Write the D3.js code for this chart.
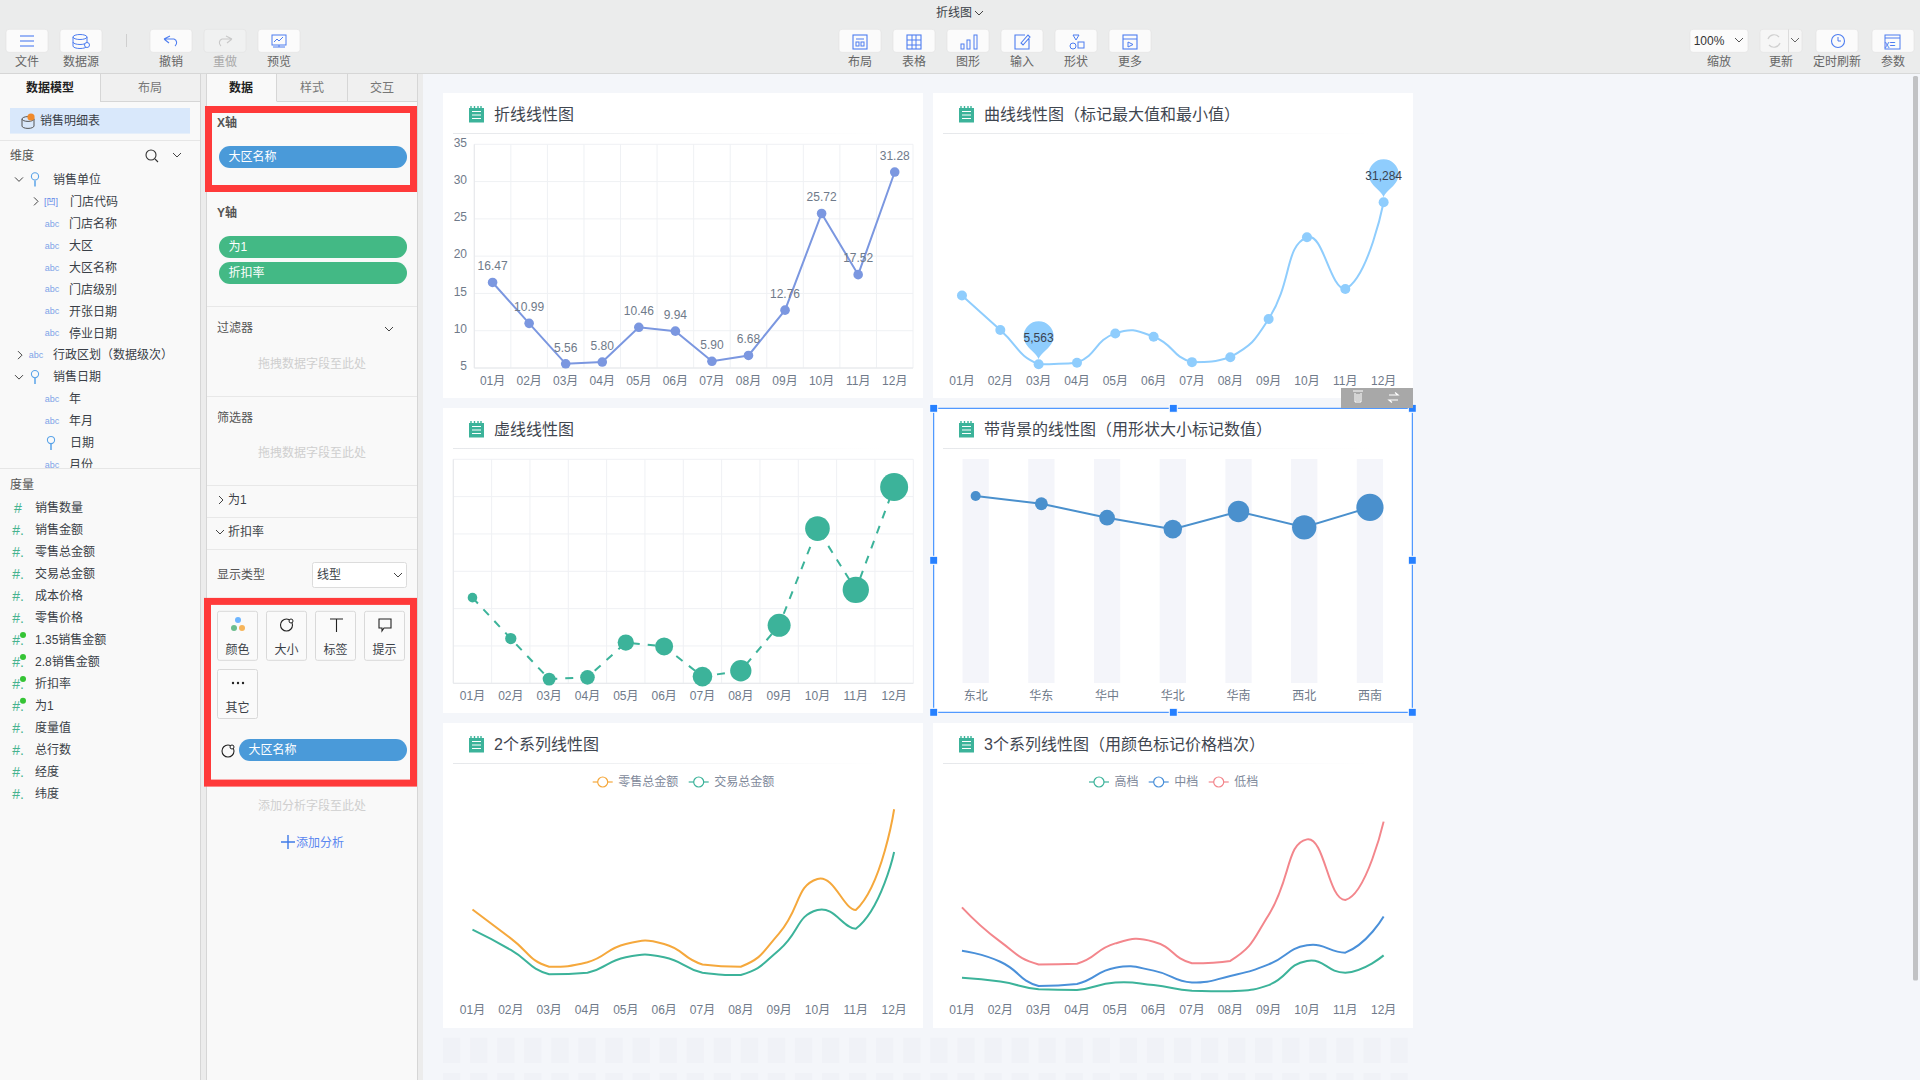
<!DOCTYPE html>
<html lang="zh">
<head>
<meta charset="utf-8">
<title>折线图</title>
<script src="https://cdn.jsdelivr.net/npm/d3@7/dist/d3.min.js"></script>
<style>
html,body{margin:0;padding:0;width:1920px;height:1080px;overflow:hidden;background:#f4f6fa}
svg{display:block}
text{font-family:"Liberation Sans","Noto Sans CJK SC",sans-serif;font-size:12px}
</style>
</head>
<body>
<div id="app"></div>
<script>
// ---------- data ----------
const months = ["01月","02月","03月","04月","05月","06月","07月","08月","09月","10月","11月","12月"];
const yTicks = [5,10,15,20,25,30,35];
const lineValues = [16.47,10.99,5.56,5.80,10.46,9.94,5.90,6.68,12.76,25.72,17.52,31.28];
const curveValues = [16470,10990,5563,5800,10460,9940,5900,6680,12760,25720,17520,31284];
const regions = ["东北","华东","华中","华北","华南","西北","西南"];
const regionValues = [83.5,80,73.8,68.7,76.6,69.5,78.4];
const retailTotal = [43.3,28.3,13.6,15.9,25.4,25.4,14.8,13.6,30.9,59.1,43,95.2];
const tradeTotal = [32.8,22.3,9.7,10.5,18.5,18.5,10.5,9.3,22.3,43,33.3,73.1];
const highTier = [7.9,5.9,1.9,1.6,5.4,4.1,1.2,0.9,4.1,16.6,10.5,19.5];
const midTier = [21.9,16.2,3.6,4.7,13.1,11.6,5.4,8.8,14.8,24.7,20.9,39.6];
const lowTier = [44.4,26.6,14.8,15.2,25.7,26.6,15.4,16.6,40.4,79.6,48.2,88.8];
const chartTitles = ["折线线性图","曲线线性图（标记最大值和最小值）","虚线线性图","带背景的线性图（用形状大小标记数值）","2个系列线性图","3个系列线性图（用颜色标记价格档次）"];
const legendTwo = ["零售总金额","交易总金额"];
const legendThree = ["高档","中档","低档"];
const treeLabels = ["销售单位","门店代码","门店名称","大区","大区名称","门店级别","开张日期","停业日期","行政区划（数据级次）","销售日期","年","年月","日期","月份"];
const treeKinds = ["groupOpen","code","abc","abc","abc","abc","abc","abc","groupClosed","groupOpen","abc","abc","key","abc"];
const measureLabels = ["销售数量","销售金额","零售总金额","交易总金额","成本价格","零售价格","1.35销售金额","2.8销售金额","折扣率","为1","度量值","总行数","经度","纬度"];
const measureFlags = [0,0,0,0,0,0,1,1,1,1,0,0,0,0];
const toolsLeft = ["文件","数据源","撤销","重做","预览"];
const toolsMid = ["布局","表格","图形","输入","形状","更多"];
const markLabels = ["颜色","大小","标签","提示","其它"];

// ---------- helpers ----------
const C = {bg:"#f4f6fa",bar:"#ebecec",panel:"#f9f9f9",ink:"#3a3f47",mute:"#6f7a8a",grid:"#eff1f4",red:"#ff3a3a",blue:"#4a9ad9",green:"#43b985",sel:"#2680ff",icon:"#4d7df0",teal:"#3cb39a"};
const svg = d3.select("#app").append("svg").attr("width",1920).attr("height",1080).attr("viewBox","0 0 1920 1080");
const defs = svg.append("defs");
const grad = defs.append("linearGradient").attr("id","fade");
grad.append("stop").attr("offset","0").attr("stop-color","#e6e8eb");
grad.append("stop").attr("offset","1").attr("stop-color","#ffffff");
defs.append("clipPath").attr("id","treeClip").append("rect").attr("x",0).attr("y",141).attr("width",200).attr("height",327);

// Smooth path: tangent follows the neighbours, handle length follows each segment's share.
// Handles may rise above a segment but never sink below it, which keeps the low stretches flat.
function smoothCurve(context){
  let pts;
  return {
    areaStart(){},areaEnd(){},
    lineStart(){pts=[];},
    point(x,y){pts.push([+x,+y]);},
    lineEnd(){
      const s=0.5,n=pts.length;
      const out=[],inn=[];
      pts.forEach((p,i)=>{
        if(i===0||i===n-1){out[i]=p;inn[i]=p;return;}
        const a=pts[i-1],b=pts[i+1];
        const vx=b[0]-a[0],vy=b[1]-a[1];
        const la=Math.hypot(p[0]-a[0],p[1]-a[1]),lb=Math.hypot(b[0]-p[0],b[1]-p[1]);
        const ra=la/(la+lb),rb=lb/(la+lb);
        out[i]=[p[0]+vx*s*rb,Math.min(p[1]+vy*s*rb,Math.max(p[1],b[1]))];
        inn[i]=[p[0]-vx*s*ra,Math.min(p[1]-vy*s*ra,Math.max(p[1],a[1]))];
      });
      context.moveTo(pts[0][0],pts[0][1]);
      for(let i=1;i<n;i++) context.bezierCurveTo(out[i-1][0],out[i-1][1],inn[i][0],inn[i][1],pts[i][0],pts[i][1]);
    }
  };
}

function T(g,x,y,s,o={}){
  const t=g.append("text").attr("x",x).attr("y",y).attr("dy","0.36em").text(s)
    .attr("fill",o.fill||C.ink).attr("text-anchor",o.anchor||"start");
  if(o.size) t.style("font-size",o.size+"px");
  if(o.bold) t.attr("font-weight",700);
  return t;
}
function R(g,x,y,w,h,fill,o={}){
  const r=g.append("rect").attr("x",x).attr("y",y).attr("width",w).attr("height",h).attr("fill",fill);
  if(o.rx) r.attr("rx",o.rx);
  if(o.stroke) r.attr("stroke",o.stroke).attr("stroke-width",o.sw||1);
  return r;
}
function L(g,x1,y1,x2,y2,c,w=1){return g.append("line").attr("x1",x1).attr("y1",y1).attr("x2",x2).attr("y2",y2).attr("stroke",c).attr("stroke-width",w);}
function P(g,d,c,w=1.3,fill="none"){return g.append("path").attr("d",d).attr("stroke",c).attr("stroke-width",w).attr("fill",fill);}
function chev(g,x,y,dir,c="#444"){
  const d = dir==="down" ? `M${x-4},${y-2}L${x},${y+2}L${x+4},${y-2}` : `M${x-2},${y-4}L${x+2},${y}L${x-2},${y+4}`;
  P(g,d,c,1);
}

// ---------- page chrome ----------
R(svg,0,0,1920,1080,C.bg);
R(svg,0,0,1920,73,C.bar);
L(svg,0,73.5,1920,73.5,"#d8d9d9");
T(svg,954,13,"折线图",{anchor:"middle"});
chev(svg,979,13,"down");

function toolBtn(cx,label,w=42,disabled=false){
  const g=svg.append("g");
  R(g,cx-w/2,29.3,w,23,disabled?"#f0f1f1":"#fbfbfb",{rx:3,stroke:"#e0e1e1",sw:0.6});
  T(g,cx,61.5,label,{anchor:"middle",fill:disabled?"#a9a9a9":"#666"});
  return g;
}
const leftX=[27,81,171,225,279];
toolsLeft.forEach((s,i)=>toolBtn(leftX[i],s,42,i===3));
L(svg,126.5,34,126.5,47,"#cfcfcf");
const midX=d3.range(6).map(i=>860+i*54);
toolsMid.forEach((s,i)=>toolBtn(midX[i],s));
// toolbar icons
(function(svg){
  const ic=C.icon;
  [35,40,45].forEach(y=>L(svg,20,y,34,y,ic,1.1));
  svg.append("ellipse").attr("cx",80).attr("cy",36).attr("rx",7).attr("ry",2.5).attr("fill","none").attr("stroke",ic);
  P(svg,"M73,36V45a7,2.5 0 0 0 14,0V36M73,41a7,2.5 0 0 0 14,0",ic,1);
  svg.append("circle").attr("cx",87).attr("cy",44).attr("r",2.5).attr("fill","#fff").attr("stroke",ic);
  P(svg,"M164,38 L170,35 M164,38 L169,42 M165,38 H174 a4,4 0 0 1 1,7",ic,1.1);
  P(svg,"M232,38 L226,35 M232,38 L227,42 M231,38 H222 a4,4 0 0 0 -1,7","#c8c8c8",1.1);
  R(svg,272,34,14,10,"none",{stroke:ic});
  P(svg,"M274,41l3,-3l2,2l4,-4M279,44v2M273,46h12",ic,1);
  // middle
  R(svg,853,34,14,14,"none",{stroke:ic,sw:1.1});L(svg,856,38,864,38,ic);R(svg,856,41,3,4,"none",{stroke:ic});R(svg,861,41,3,4,"none",{stroke:ic});
  R(svg,907,34,14,14,"none",{stroke:ic,sw:1.1});[912,916].forEach(x=>L(svg,x,34,x,48,ic));[39,44].forEach(y=>L(svg,907,y,921,y,ic));
  R(svg,961,43,3,5,"none",{stroke:ic});R(svg,967,39,3,9,"none",{stroke:ic});R(svg,974,34,3,14,"none",{stroke:ic});
  P(svg,"M1025,34H1015V48H1029V38M1021,42l7,-8l2,2l-7,8z",ic,1.1);
  P(svg,"M1073,34h6l-3,5z",ic,1);svg.append("circle").attr("cx",1073).attr("cy",45).attr("r",3).attr("fill","none").attr("stroke",ic);R(svg,1078,41,6,6,"none",{stroke:ic});
  R(svg,1123,34,14,14,"none",{stroke:ic,sw:1.1});L(svg,1123,38,1137,38,ic);P(svg,"M1128,41l5,2.5l-5,2.5z",ic,1);
})(svg.append("g").attr("transform","translate(0,1)"));
// right toolbar
(function(svg){
  const ic=C.icon;
  R(svg,1690,28.3,58,23,"#fbfbfb",{rx:3,stroke:"#e0e1e1",sw:0.6});
  T(svg,1709,39.5,"100%",{anchor:"middle",fill:"#333"});
  chev(svg,1739,39,"down","#555");
  T(svg,1719,60.5,"缩放",{anchor:"middle",fill:"#666"});
  R(svg,1760,28.3,42,23,"#f6f6f6",{rx:3,stroke:"#e0e1e1",sw:0.6});
  L(svg,1788.5,28.3,1788.5,51.3,"#dcdcdc");
  P(svg,"M1768,38a6.5,6.5 0 0 1 11,-2M1780,42a6.5,6.5 0 0 1 -11,2","#d0d0d0",1.2);
  chev(svg,1795,39,"down","#666");
  T(svg,1781,60.5,"更新",{anchor:"middle",fill:"#666"});
  R(svg,1816,28.3,42,23,"#fbfbfb",{rx:3,stroke:"#e0e1e1",sw:0.6});
  svg.append("circle").attr("cx",1838).attr("cy",40).attr("r",6.5).attr("fill","none").attr("stroke",ic).attr("stroke-width",1.1);
  P(svg,"M1838,36v4h3",ic,1);
  T(svg,1837,60.5,"定时刷新",{anchor:"middle",fill:"#666"});
  R(svg,1872,28.3,42,23,"#fbfbfb",{rx:3,stroke:"#e0e1e1",sw:0.6});
  R(svg,1885,34,15,14,"none",{stroke:ic});L(svg,1885,37,1900,37,ic);
  T(svg,1890,43,"x=",{anchor:"middle",fill:ic,size:10});
  T(svg,1893,60.5,"参数",{anchor:"middle",fill:"#666"});
})(svg.append("g").attr("transform","translate(0,1)"));

// ---------- left panel ----------
R(svg,0,74,200,1006,C.panel);
R(svg,200,74,7,1006,"#ececec");
L(svg,200.5,73.5,200.5,1080,"#d6d6d6");
R(svg,0,74,100,27.5,C.panel);
R(svg,100,74,100,27.5,"#f0f0f0");
L(svg,100.5,73.5,100.5,101.5,"#d6d6d6");L(svg,100,101.5,200,101.5,"#d6d6d6");L(svg,0,73.5,200,73.5,"#d6d6d6");
T(svg,50,87.5,"数据模型",{anchor:"middle",bold:true,fill:"#222"});
T(svg,150,87.5,"布局",{anchor:"middle",fill:"#777"});
R(svg,10,108,180,25.6,"#d9e8fb");
(function(){
  svg.append("ellipse").attr("cx",28).attr("cy",119).attr("rx",6).attr("ry",2.4).attr("fill","none").attr("stroke","#555");
  P(svg,"M22,119v7a6,2.4 0 0 0 12,0v-7","#555",1);
  svg.append("circle").attr("cx",31).attr("cy",117).attr("r",3.6).attr("fill","#f08a2c");
})();
T(svg,40,120.5,"销售明细表");
L(svg,0,140.5,200,140.5,"#e6e6e6");
T(svg,10,156,"维度",{fill:"#555"});
svg.append("circle").attr("cx",151).attr("cy",155).attr("r",5).attr("fill","none").attr("stroke","#333").attr("stroke-width",1.1);
L(svg,155,159,158,162,"#333",1.1);
chev(svg,177,155,"down");

const tree=svg.append("g").attr("clip-path","url(#treeClip)");
const rowY=d3.scaleLinear().domain([0,13]).range([179.4,465]);
function keyIcon(g,x,y){
  g.append("circle").attr("cx",x).attr("cy",y-3).attr("r",3.6).attr("fill","none").attr("stroke","#5aa3e8").attr("stroke-width",1.1);
  L(g,x,y+1,x,y+7,"#5aa3e8",1.5);
}
treeLabels.forEach((s,i)=>{
  const y=rowY(i), k=treeKinds[i];
  if(k==="groupOpen"){chev(tree,19,y,"down");keyIcon(tree,35,y);T(tree,53,y,s);}
  else if(k==="groupClosed"){chev(tree,20,y,"right");T(tree,36,y,"abc",{anchor:"middle",fill:"#7fa4e8",size:9});T(tree,53,y,s);}
  else if(k==="code"){chev(tree,36,y,"right");T(tree,51,y,"[凹]",{anchor:"middle",fill:"#5f86e8",size:9});T(tree,70,y,s);}
  else if(k==="key"){keyIcon(tree,51,y);T(tree,70,y,s);}
  else {T(tree,52,y,"abc",{anchor:"middle",fill:"#7fa4e8",size:9});T(tree,69,y,s);}
});
L(svg,0,468.5,200,468.5,"#e6e6e6");
T(svg,10,484.5,"度量",{fill:"#555"});
const measY=d3.scaleLinear().domain([0,13]).range([508,793.8]);
measureLabels.forEach((s,i)=>{
  const y=measY(i);
  T(svg,18,y,i===0?"#":"#.",{anchor:"middle",fill:"#46b38f",size:14});
  if(measureFlags[i]) svg.append("circle").attr("cx",23).attr("cy",y-5).attr("r",3).attr("fill","#35c435");
  T(svg,35,y,s);
});

// ---------- field panel ----------
R(svg,207,74,210,1006,C.panel);
L(svg,206.5,73.5,206.5,1080,"#d6d6d6");L(svg,417.5,73.5,417.5,1080,"#d6d6d6");
R(svg,418,74,5,1006,"#ececec");
L(svg,207,73.5,417,73.5,"#d6d6d6");
R(svg,277,74,140,27.5,"#f0f0f0");
L(svg,277,101.5,417,101.5,"#d6d6d6");L(svg,276.5,73.5,276.5,101.5,"#d6d6d6");L(svg,347.5,73.5,347.5,101.5,"#d6d6d6");
T(svg,241,87.5,"数据",{anchor:"middle",bold:true,fill:"#222"});
T(svg,312,87.5,"样式",{anchor:"middle",fill:"#777"});
T(svg,382,87.5,"交互",{anchor:"middle",fill:"#777"});
R(svg,208.5,109.5,205,79,C.panel,{stroke:C.red,sw:7});
T(svg,217,123,"X轴",{fill:"#555",bold:true});
function pill(x,y,w,s,c){R(svg,x,y,w,22,c,{rx:11});T(svg,x+9.5,y+11,s,{fill:"#fff"});}
pill(219,146,188,"大区名称",C.blue);
T(svg,217,212.8,"Y轴",{fill:"#555",bold:true});
pill(219,235.9,188,"为1",C.green);
pill(219,262,188,"折扣率",C.green);
[306.5,396.5,485.5,517.5,549.5].forEach(y=>L(svg,207,y,417,y,"#e8e8e8"));
T(svg,217,327.5,"过滤器",{fill:"#555"});chev(svg,389,329,"down");
T(svg,312,363.6,"拖拽数据字段至此处",{anchor:"middle",fill:"#cfcfcf"});
T(svg,217,417.4,"筛选器",{fill:"#555"});
T(svg,312,452.8,"拖拽数据字段至此处",{anchor:"middle",fill:"#cfcfcf"});
chev(svg,221,500,"right");T(svg,228,500,"为1");
chev(svg,220,532,"down");T(svg,228,532,"折扣率");
T(svg,217,574.4,"显示类型",{fill:"#555"});
R(svg,312.5,562.5,94,25,"#fff",{rx:2,stroke:"#dcdcdc"});
T(svg,317,575,"线型");chev(svg,398,575,"down");
R(svg,207.5,601.4,206,181.7,C.panel,{stroke:C.red,sw:7});
const markX=[217.5,266.5,315.5,364.5];
markLabels.forEach((s,i)=>{
  const x=i<4?markX[i]:markX[0], y=i<4?611.3:669.5;
  R(svg,x,y,40,49,"#fafafa",{rx:2,stroke:"#d9d9d9"});
  T(svg,x+20,y+38,s,{anchor:"middle"});
});
(function(){
  [[238,620,"#6db5ff"],[234,628,"#6bbd8e"],[242,628,"#f7b55a"]].forEach(a=>svg.append("circle").attr("cx",a[0]).attr("cy",a[1]).attr("r",3).attr("fill",a[2]));
  svg.append("circle").attr("cx",286.5).attr("cy",625).attr("r",6).attr("fill","none").attr("stroke","#222").attr("stroke-width",1.1);
  svg.append("circle").attr("cx",291).attr("cy",621).attr("r",2).attr("fill","#fff").attr("stroke","#222");
  P(svg,"M330,619h13M336.5,619v13","#222",1.1);
  P(svg,"M379,619h12v9h-7l-2,3v-3h-3z","#222",1.1);
  [233,238,243].forEach(x=>svg.append("circle").attr("cx",x).attr("cy",683).attr("r",1.2).attr("fill","#222"));
  svg.append("circle").attr("cx",228).attr("cy",751).attr("r",6).attr("fill","none").attr("stroke","#222").attr("stroke-width",1.1);
  svg.append("circle").attr("cx",232).attr("cy",747).attr("r",2).attr("fill","#fff").attr("stroke","#222");
})();
pill(239,739,168,"大区名称",C.blue);
T(svg,312,805.5,"添加分析字段至此处",{anchor:"middle",fill:"#cfcfcf"});
P(svg,"M281,842h14M288,835v14","#3f7be8",1.4);
T(svg,296,842.3,"添加分析",{fill:"#5a86f0"});

// ---------- chart cards ----------
const col=[443,933], rowTop=[93,408,723], cardW=480, cardH=305;
function card(i){
  const x=col[i%2], y=rowTop[Math.floor(i/2)];
  const g=svg.append("g");
  R(g,x,y,cardW,cardH,"#fff");
  R(g,x+26,y+15,15,14.5,C.teal);
  [28,31.5,35,38].forEach(d=>L(g,x+d,y+13,x+d,y+15,C.teal,1.4));
  [18.5,22,25.5].forEach(d=>L(g,x+29,y+d,x+38,y+d,"#fff",1));
  T(g,x+51,y+21.5,chartTitles[i],{size:16,fill:"#3f4650"});
  R(g,x+10,y+40,430,1,"url(#fade)");
  return g;
}
function bandAxis(g,cats,left,y){
  const axis=d3.axisBottom(cats).tickSize(0).tickPadding(0);
  const a=g.append("g").attr("transform",`translate(0,${y})`).call(axis);
  a.select(".domain").remove();
  a.selectAll("text").attr("fill",C.mute).attr("dy","0.36em").style("font-size","12px");
}
const xMonths=(x0)=>d3.scaleBand().domain(months).range([x0,x0+460]);
function ctr(sc){return d=>sc(d)+sc.bandwidth()/2;}

// 1 straight line with grid and labels
(function(){
  const g=card(0);
  const x=d3.scaleBand().domain(months).range([474.3,913]);
  const y=d3.scaleLinear().domain([5,35]).range([368,144.3]);
  yTicks.forEach(t=>L(g,474.3,y(t),913,y(t),C.grid));
  months.forEach(m=>L(g,x(m),144.3,x(m),368,C.grid));
  L(g,913,144.3,913,368,C.grid);
  L(g,474.3,368,913,368,"#e6e8eb");
  L(g,474.3,144.3,474.3,368,"#e6e8eb");
  const ya=g.append("g").attr("transform","translate(470,-2)").call(d3.axisLeft(y).tickValues(yTicks).tickSize(0).tickPadding(3));
  ya.select(".domain").remove();
  ya.selectAll("text").attr("fill",C.mute).style("font-size","12px");
  bandAxis(g,x,0,380.7);
  const cx=ctr(x), c="#7b97e0";
  const line=d3.line().x((d,i)=>cx(months[i])).y(d=>y(d));
  g.append("path").attr("d",line(lineValues)).attr("fill","none").attr("stroke",c).attr("stroke-width",2);
  g.selectAll("circle.p").data(lineValues).join("circle").attr("cx",(d,i)=>cx(months[i])).attr("cy",d=>y(d)).attr("r",4.8).attr("fill",c);
  g.selectAll("text.v").data(lineValues).join("text").attr("class","v").attr("x",(d,i)=>cx(months[i])).attr("y",d=>y(d)-16.5).attr("dy","0.36em")
    .attr("text-anchor","middle").attr("fill",C.mute).text(d=>d3.format(".2f")(d));
})();

// 2 curve with min/max pins
(function(){
  const g=card(1);
  const x=xMonths(942.8);
  const y=d3.scaleLinear().domain([5000,35000]).range([367.8,178.9]);
  bandAxis(g,x,0,380.7);
  const cx=ctr(x), c="#8fcdfd";
  const line=d3.line().x((d,i)=>cx(months[i])).y(d=>y(d)).curve(smoothCurve);
  g.append("path").attr("d",line(curveValues)).attr("fill","none").attr("stroke",c).attr("stroke-width",2);
  g.selectAll("circle.p").data(curveValues).join("circle").attr("cx",(d,i)=>cx(months[i])).attr("cy",d=>y(d)).attr("r",5).attr("fill",c);
  [d3.min(curveValues),d3.max(curveValues)].forEach(v=>{
    const i=curveValues.indexOf(v), px=cx(months[i]), py=y(v);
    g.append("path").attr("transform",`translate(${px},${py-5})`)
      .attr("d","M0,0C-2,-7 -15,-12 -15,-23A15,15 0 1 1 15,-23C15,-12 2,-7 0,0Z").attr("fill",c);
    T(g,px,py-27,d3.format(",")(v),{anchor:"middle",fill:"#3a4250"});
  });
})();

// 3 dashed with sized markers
(function(){
  const g=card(2);
  const x=xMonths(453.3);
  const y=d3.scaleLinear().domain([5,35]).range([683.3,459.3]);
  yTicks.forEach(t=>L(g,453.3,y(t),913.3,y(t),C.grid));
  months.forEach(m=>L(g,x(m),459.3,x(m),683.3,C.grid));
  L(g,913.3,459.3,913.3,683.3,C.grid);
  L(g,453.3,683.3,913.3,683.3,"#e6e8eb");
  L(g,453.3,459.3,453.3,683.3,"#e6e8eb");
  bandAxis(g,x,0,695.7);
  const cx=ctr(x), c=C.teal;
  const r=d3.scaleLinear().domain([0,months.length-1]).range([4.8,14]);
  const line=d3.line().x((d,i)=>cx(months[i])).y(d=>y(d));
  g.append("path").attr("d",line(lineValues)).attr("fill","none").attr("stroke",c).attr("stroke-width",2).attr("stroke-dasharray","8 8");
  g.selectAll("circle.p").data(lineValues).join("circle").attr("cx",(d,i)=>cx(months[i])).attr("cy",d=>y(d)).attr("r",(d,i)=>r(i)).attr("fill",c);
})();

// 4 background bars with sized markers
(function(){
  const g=card(3);
  const x=d3.scaleBand().domain(regions).range([942.8,1402.8]).paddingInner(0.6).paddingOuter(0.3);
  const y=d3.scaleLinear().domain([0,100]).range([683,459]);
  g.selectAll("rect.b").data(regions).join("rect").attr("x",d=>x(d)).attr("y",y(100)).attr("width",x.bandwidth()).attr("height",y(0)-y(100)).attr("fill","#f4f5fa");
  bandAxis(g,x,0,695.7);
  const cx=ctr(x), c="#4a90cd";
  const r=d3.scaleLinear().domain([0,regions.length-1]).range([5,13.6]);
  const line=d3.line().x((d,i)=>cx(regions[i])).y(d=>y(d));
  g.append("path").attr("d",line(regionValues)).attr("fill","none").attr("stroke",c).attr("stroke-width",2);
  g.selectAll("circle.p").data(regionValues).join("circle").attr("cx",(d,i)=>cx(regions[i])).attr("cy",d=>y(d)).attr("r",(d,i)=>r(i)).attr("fill",c);
  // selection frame
  R(svg,933.7,408.3,478.6,304,"none",{stroke:C.sel,sw:1});
  [933.7,1173.3,1412.3].forEach(hx=>[408.3,560.3,712.3].forEach(hy=>{
    if(hx===1173.3&&hy===560.3) return;
    R(svg,hx-4,hy-4,8,8,C.sel,{stroke:"#fff",sw:1});
  }));
  R(svg,1341,388,72,20,"#a8a8a8");
  P(svg,"M1353,391h10M1355,393v9h6v-9M1357,394v7M1359,394v7","#fff",1);
  P(svg,"M1389,395h9l-3,-2.5M1398,400h-9l3,2.5","#fff",1.2);
})();

// 5 / 6 multi-series
function multi(i,x0,series,colors,names,legendPos){
  const g=card(i);
  const x=xMonths(x0);
  const y=d3.scaleLinear().domain([0,100]).range([993,800]);
  bandAxis(g,x,0,1010);
  const cx=ctr(x);
  const line=d3.line().x((d,k)=>cx(months[k])).y(d=>y(d)).curve(smoothCurve);
  series.forEach((s,k)=>g.append("path").attr("d",line(s)).attr("fill","none").attr("stroke",colors[k]).attr("stroke-width",2));
  names.forEach((n,k)=>{
    const lx=legendPos[k];
    L(g,lx-10,782,lx+10,782,colors[k],1.2);
    g.append("circle").attr("cx",lx).attr("cy",782).attr("r",5).attr("fill","#fff").attr("stroke",colors[k]).attr("stroke-width",1.2);
    T(g,lx+15.5,782,n,{fill:"#7f8a9b"});
  });
}
multi(4,453.3,[retailTotal,tradeTotal],["#f5a83c",C.teal],legendTwo,[602.7,698.7]);
multi(5,942.8,[highTier,midTier,lowTier],[C.teal,"#4a90d9","#f3868c"],legendThree,[1099,1158.7,1218.7]);

// skeleton placeholder rows under the canvas
(function(){
  const g=svg.append("g");
  [1037.7,1073].forEach(y=>d3.range(36).forEach(k=>{
    const x=443+k*27.07;
    if(x+17<1414) R(g,x,y,17.3,25.3,"#f0f2f7");
  }));
})();

// scrollbar
R(svg,1913,76,5,904.5,"#c1c2c4",{rx:1.5});
</script>
</body>
</html>
